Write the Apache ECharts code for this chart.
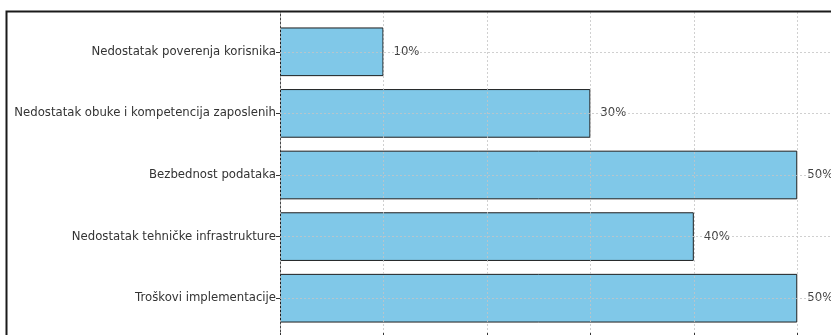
<!DOCTYPE html>
<html>
<head>
<meta charset="utf-8">
<script src="https://cdn.jsdelivr.net/npm/echarts@6/dist/echarts.min.js"></script>
<style>
  html, body { margin: 0; padding: 0; background: #fff; overflow: hidden; }
  #chart { width: 860px; height: 335px; }
</style>
</head>
<body>
<div id="chart"></div>
<script>
// Barriers to adoption, share of respondents (%)
const categories = [
  'Nedostatak poverenja korisnika',
  'Nedostatak obuke i kompetencija zaposlenih',
  'Bezbednost podataka',
  'Nedostatak tehničke infrastrukture',
  'Troškovi implementacije'
];
const percentages = [10, 30, 50, 40, 50];
const xTicks = [0, 10, 20, 30, 40, 50];

const FONT = 'DejaVu Sans';
const gridLine = { color: '#c4c4c4', width: 0.8, type: [2, 2] };

const chart = echarts.init(document.getElementById('chart'), null, { renderer: 'canvas' });

chart.setOption({
  animation: false,
  backgroundColor: '#ffffff',
  grid: [
    // frame of the axes: spine and vertical grid lines
    { left: 280, top: 12, width: 569, bottom: 2, containLabel: false },
    // plotting band for the bars (inset like the axis margins)
    { left: 280, top: 21, width: 569, bottom: 6, containLabel: false }
  ],
  xAxis: [
    {
      gridIndex: 0, type: 'value', min: xTicks[0], max: 55, interval: 10,
      z: 5,
      axisLine: { show: false },
      axisTick: { show: true, length: 4, lineStyle: { color: '#333' } },
      axisLabel: { show: false },
      splitLine: { show: true, lineStyle: gridLine }
    },
    {
      gridIndex: 1, type: 'value', min: xTicks[0], max: 55, interval: 10,
      show: false
    }
  ],
  yAxis: [
    {
      gridIndex: 0, type: 'value', min: 0, max: 1,
      axisLine: { show: true, lineStyle: { color: '#444', width: 1 } },
      axisTick: { show: false },
      axisLabel: { show: false },
      splitLine: { show: false }
    },
    {
      gridIndex: 1, type: 'category', data: categories, inverse: true,
      z: 5,
      axisLine: { show: false },
      axisTick: { show: true, alignWithLabel: true, length: 4, lineStyle: { color: '#333' } },
      axisLabel: { fontFamily: FONT, fontSize: 11.7, color: '#333', margin: 4 },
      splitLine: { show: true, alignWithLabel: true, lineStyle: gridLine }
    }
  ],
  series: [
    {
      type: 'bar',
      xAxisIndex: 1,
      yAxisIndex: 1,
      data: percentages,
      barWidth: '79%',
      itemStyle: { color: '#80c8e8', borderColor: '#1e1e1e', borderWidth: 1 },
      label: {
        show: true,
        position: 'right',
        distance: 10,
        formatter: p => p.value + '%',
        fontFamily: FONT,
        fontSize: 11.7,
        color: '#444'
      }
    }
  ],
  graphic: [
    {
      type: 'polyline',
      shape: { points: [[6.5, 335], [6.5, 11.5], [860, 11.5]] },
      style: { stroke: '#1a1a1a', lineWidth: 2, fill: null },
      z: 10
    }
  ]
});
</script>
</body>
</html>
